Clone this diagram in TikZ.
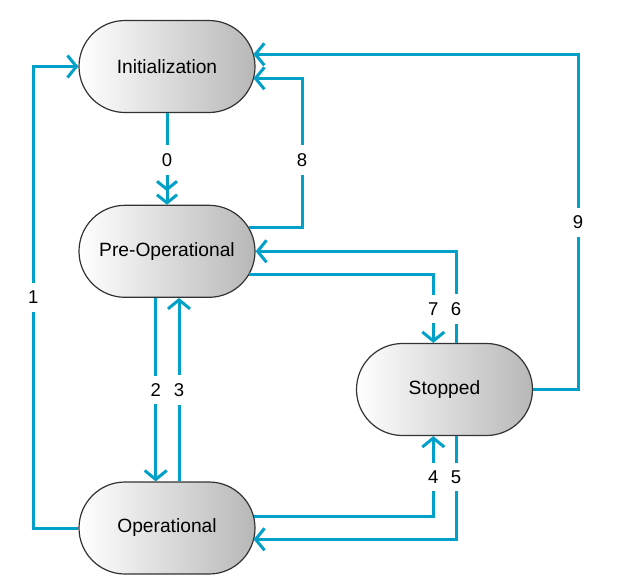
\documentclass[tikz,border=0pt]{standalone}
\usepackage{fontspec}
\setmainfont{Liberation Sans}
\usetikzlibrary{shapes.misc,arrows.meta,calc}
\definecolor{flow}{RGB}{0,160,200}
\begin{document}
\begin{tikzpicture}[x=1pt,y=-1pt,
  state/.style={rounded rectangle, draw=black!80, line width=1.2pt,
    left color=white, right color=black!28,
    minimum width=176pt, minimum height=92pt, inner sep=0pt,
    font=\fontsize{19.2}{22}\selectfont},
  flowline/.style={draw=flow, line width=3pt},
  barbtip/.style={-{Straight Barb[length=9pt,width=22pt]}},
  dblbarb/.style={-{Straight Barb[length=8pt,width=20pt,sep=2pt] Straight Barb[length=8pt,width=20pt]}},
  lab/.style={fill=white, inner xsep=2pt, inner ysep=8pt,
    font=\fontsize{18.5}{22}\selectfont}
]
\useasboundingbox (0,0) rectangle (621,584);

\node[state] (init) at (167,66.5) {Initialization};
\node[state] (pre)  at (167,251.3) {Pre-Operational};
\node[state] (op)   at (167,528) {Operational};
\node[state] (stop) at (444.5,389.5) {Stopped};

% 0
\draw[flowline,dblbarb] (init.south) -- (pre.north);
% 8
\draw[flowline,barbtip] ($(pre.center)+(81.5,-23.6)$) -- (302,227.7) -- (302,78.3) -- ($(init.center)+(86.5,11.8)$);
% 9
\draw[flowline,barbtip] (stop.east) -- (578,389.5) -- (578,54.3) -- ($(init.center)+(86.4,-12.2)$);
% 1
\draw[flowline,barbtip] (op.west) -- (33.3,528) -- (33.3,66.5) -- (init.west);
% 2
\draw[flowline,barbtip] ($(pre.south)+(-11.3,0)$) -- ($(op.north)+(-11.3,0)$);
% 3
\draw[flowline,barbtip] ($(op.north)+(12,0)$) -- ($(pre.south)+(12,0)$);
% 7
\draw[flowline,barbtip] ($(pre.center)+(82,22.7)$) -- (433.3,274) -- ($(stop.north)+(-11.2,0)$);
% 6
\draw[flowline,barbtip] ($(stop.north)+(11.5,0)$) -- (456,251.3) -- (pre.east);
% 4
\draw[flowline,barbtip] ($(op.center)+(86.5,-11.5)$) -- (433.3,516.5) -- ($(stop.south)+(-11.2,0)$);
% 5
\draw[flowline,barbtip] ($(stop.south)+(11.5,0)$) -- (456,539.3) -- ($(op.center)+(86.6,11.3)$);

\node[lab] (l0) at (167,160) {0};
\node[lab] (l8) at (302,160) {8};
\node[lab] (l9) at (578,222.5) {9};
\node[lab] (l1) at (33.3,297.5) {1};
\node[lab] (l2) at (155.7,390) {2};
\node[lab] (l3) at (179,390) {3};
\node[lab] (l7) at (433.3,309) {7};
\node[lab] (l6) at (456,309) {6};
\node[lab] (l4) at (433.3,477) {4};
\node[lab] (l5) at (456,477) {5};
\end{tikzpicture}
\end{document}
